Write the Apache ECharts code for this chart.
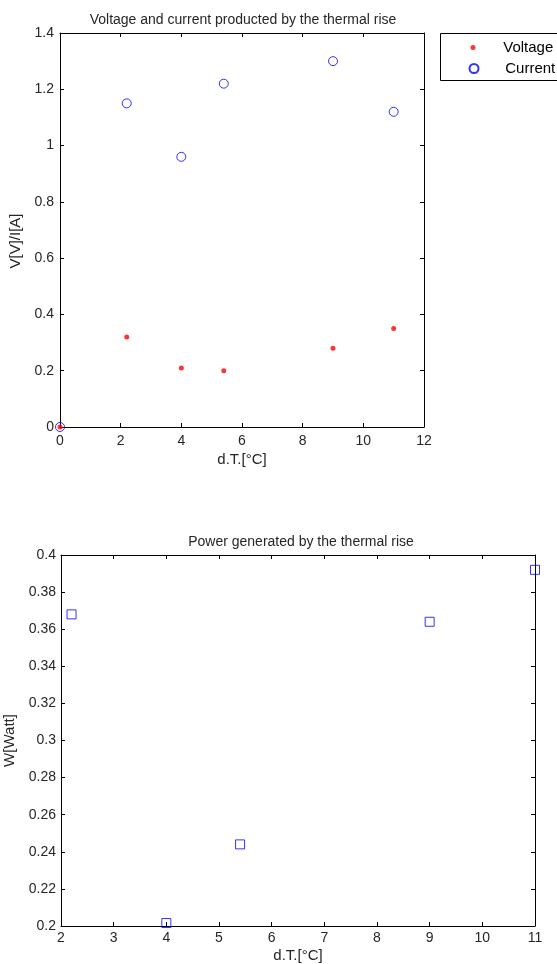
<!DOCTYPE html>
<html>
<head>
<meta charset="utf-8">
<script src="https://cdn.jsdelivr.net/npm/echarts@6/dist/echarts.min.js"></script>
<style>
  html, body { margin: 0; padding: 0; background: #fff; }
  #chart { width: 557px; height: 964px; }
</style>
</head>
<body>
<div id="chart"></div>
<script>
// data
const dT = [0, 2.2, 4, 5.4, 9, 11];
const voltage = [0, 0.32, 0.21, 0.20, 0.28, 0.35];
const current = [0, 1.15, 0.96, 1.22, 1.30, 1.12];
const powerDT = [2.2, 4, 5.4, 9, 11];
const power = [0.368, 0.2016, 0.244, 0.364, 0.392];

const font = 'Liberation Sans';
const textColor = '#262626';

function pairs(xs, ys) {
    return xs.map((x, i) => [x, ys[i]]);
}

// axis on the far side of the box: line + inward ticks, no labels
function boxAxis(gridIndex, position, min, max, interval) {
    return {
        type: 'value',
        gridIndex: gridIndex,
        position: position,
        min: min,
        max: max,
        interval: interval,
        axisLine: { show: true, onZero: false, lineStyle: { color: '#000', width: 1 } },
        axisTick: { show: true, inside: true, length: 4, lineStyle: { color: '#000' } },
        axisLabel: { show: false },
        splitLine: { show: false }
    };
}

function mainAxis(gridIndex, position, min, max, interval, name, nameGap, margin, namePad) {
    return {
        type: 'value',
        gridIndex: gridIndex,
        position: position,
        min: min,
        max: max,
        interval: interval,
        name: name,
        nameLocation: 'middle',
        nameGap: nameGap,
        nameTextStyle: { fontFamily: font, fontSize: 15, color: textColor, padding: namePad || 0 },
        axisLine: { show: true, onZero: false, lineStyle: { color: '#000', width: 1 } },
        axisTick: { show: true, inside: true, length: 4, lineStyle: { color: '#000' } },
        axisLabel: { fontFamily: font, fontSize: 14, color: textColor, margin: margin },
        splitLine: { show: false }
    };
}

let chart = echarts.init(document.getElementById('chart'), null, { renderer: 'canvas' });

let option = {
    backgroundColor: '#fff',
    animation: false,
    title: [
        {
            text: 'Voltage and current producted by the thermal rise',
            left: 238, top: 8, textAlign: 'center',
            textStyle: { fontFamily: font, fontSize: 14, fontWeight: 'normal', color: textColor }
        },
        {
            text: 'Power generated by the thermal rise',
            left: 296, top: 530, textAlign: 'center',
            textStyle: { fontFamily: font, fontSize: 14, fontWeight: 'normal', color: textColor }
        }
    ],
    legend: [
        {
            left: 470.5, top: 40, itemWidth: 50.5, itemHeight: 5,
            padding: 0,
            selectedMode: false,
            data: [{ name: 'Voltage', icon: 'circle' }],
            textStyle: { fontFamily: font, fontSize: 15, color: '#000' }
        },
        {
            left: 468.5, top: 61, itemWidth: 52.5, itemHeight: 9,
            padding: 0,
            selectedMode: false,
            data: [{ name: 'Current', icon: 'circle' }],
            textStyle: { fontFamily: font, fontSize: 15, color: '#000' }
        }
    ],
    graphic: [
        {
            type: 'rect',
            shape: { x: 440.5, y: 33.5, width: 130, height: 47 },
            style: { fill: 'none', stroke: '#000', lineWidth: 1 }
        }
    ],
    grid: [
        { left: 60, top: 33, width: 364, height: 394, outerBoundsMode: 'none' },
        { left: 61, top: 555, width: 474, height: 371, outerBoundsMode: 'none' }
    ],
    xAxis: [
        mainAxis(0, 'bottom', 0, 12, 2, 'd.T.[°C]', 25, 7),
        boxAxis(0, 'top', 0, 12, 2),
        mainAxis(1, 'bottom', 2, 11, 1, 'd.T.[°C]', 22, 5),
        boxAxis(1, 'top', 2, 11, 1)
    ],
    yAxis: [
        mainAxis(0, 'left', 0, 1.4, 0.2, 'V[V]/I[A]', 37, 6, [0, 22, 0, 0]),
        boxAxis(0, 'right', 0, 1.4, 0.2),
        mainAxis(1, 'left', 0.2, 0.4, 0.02, 'W[Watt]', 41, 5),
        boxAxis(1, 'right', 0.2, 0.4, 0.02)
    ],
    series: [
        {
            name: 'Current',
            type: 'scatter',
            xAxisIndex: 0, yAxisIndex: 0,
            symbol: 'circle', symbolSize: 9,
            clip: false,
            itemStyle: { color: 'rgba(255,255,255,0)', borderColor: '#0000ff', borderWidth: 1 },
            data: pairs(dT, current)
        },
        {
            name: 'Voltage',
            type: 'scatter',
            xAxisIndex: 0, yAxisIndex: 0,
            symbol: 'circle', symbolSize: 5,
            clip: false,
            itemStyle: { color: '#ff0000' },
            data: pairs(dT, voltage)
        },
        {
            name: 'Power',
            type: 'scatter',
            xAxisIndex: 2, yAxisIndex: 2,
            symbol: 'rect', symbolSize: 9,
            clip: false,
            itemStyle: { color: 'rgba(255,255,255,0)', borderColor: '#0000ff', borderWidth: 1 },
            data: pairs(powerDT, power)
        }
    ]
};

chart.setOption(option);
</script>
</body>
</html>
